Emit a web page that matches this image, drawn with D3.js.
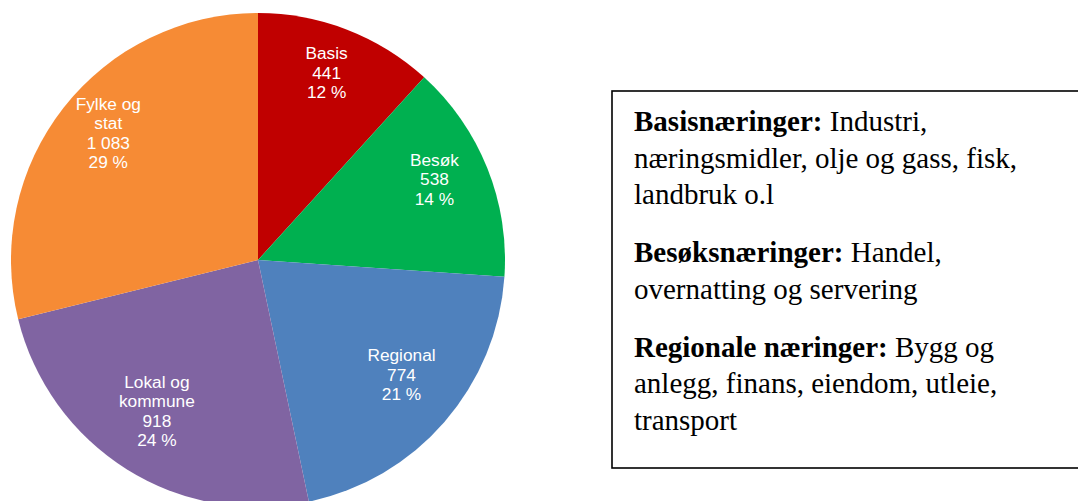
<!DOCTYPE html>
<html>
<head>
<meta charset="utf-8">
<script src="https://cdn.jsdelivr.net/npm/d3@7"></script>
<style>
  body { margin: 0; background: #fff; }
</style>
</head>
<body>
<svg width="1078" height="501"></svg>
<script>
// DATA
var categories = ["Basis", "Besøk", "Regional", "Lokal og kommune", "Fylke og stat"];
var labelLines = [["Basis"], ["Besøk"], ["Regional"], ["Lokal og", "kommune"], ["Fylke og", "stat"]];
var values = [441, 538, 774, 918, 1083];
var colors = ["#c00000", "#00b050", "#4f81bd", "#8064a2", "#f68b35"];

// text box: [bold, normal] per line, paragraphs separated
var notes = [
  [["Basisnæringer:", " Industri,"], ["", "næringsmidler, olje og gass, fisk,"], ["", "landbruk o.l"]],
  [["Besøksnæringer:", " Handel,"], ["", "overnatting og servering"]],
  [["Regionale næringer:", " Bygg og"], ["", "anlegg, finans, eiendom, utleie,"], ["", "transport"]]
];

var svg = d3.select("svg"),
    cx = 258, cy = 260, radius = 247;

var total = d3.sum(values);
var fmt = function(v) { return d3.format(",")(v).replace(/,/g, " "); };

var pie = d3.pie().sort(null).value(function(d) { return d; });
var arcs = pie(values);

var arc = d3.arc().innerRadius(0).outerRadius(radius);
var labelArc = d3.arc().innerRadius(radius * 0.77).outerRadius(radius * 0.77);

var g = svg.append("g").attr("transform", "translate(" + cx + "," + cy + ")");

g.selectAll("path.slice")
    .data(arcs)
  .enter().append("path")
    .attr("class", "slice")
    .attr("d", arc)
    .attr("fill", function(d, i) { return colors[i]; });

// labels (nudged up a bit, like the original)
var lineH = 19.5;
g.selectAll("text.lbl")
    .data(arcs)
  .enter().append("text")
    .attr("class", "lbl")
    .attr("font-family", "Liberation Sans, Arial, sans-serif")
    .attr("font-size", "17.3px")
    .attr("fill", "#fff")
    .attr("text-anchor", "middle")
    .each(function(d, i) {
      var c = labelArc.centroid(d);
      var lines = labelLines[i].concat([fmt(values[i]), Math.round(values[i] / total * 100) + " %"]);
      var y0 = c[1] - 10 - (lines.length - 1) * lineH / 2;
      var t = d3.select(this);
      lines.forEach(function(s, k) {
        t.append("tspan")
          .attr("x", c[0])
          .attr("y", y0 + k * lineH)
          .attr("dy", "0.35em")
          .text(s);
      });
    });

// NOTE BOX
svg.append("rect")
    .attr("x", 612)
    .attr("y", 91)
    .attr("width", 480)
    .attr("height", 377)
    .attr("fill", "none")
    .attr("stroke", "#000")
    .attr("stroke-width", 1.6);

var noteX = 634, y = 131, lineGap = 36.5, paraGap = 58;
notes.forEach(function(para, p) {
  para.forEach(function(line, k) {
    var t = svg.append("text")
        .attr("x", noteX)
        .attr("y", y)
        .attr("font-family", "Liberation Serif, Times New Roman, serif")
        .attr("font-size", "29px")
        .attr("fill", "#000");
    if (line[0]) t.append("tspan").attr("font-weight", "bold").text(line[0]);
    t.append("tspan").text(line[1]);
    y += (k < para.length - 1) ? lineGap : paraGap;
  });
});
</script>
</body>
</html>
